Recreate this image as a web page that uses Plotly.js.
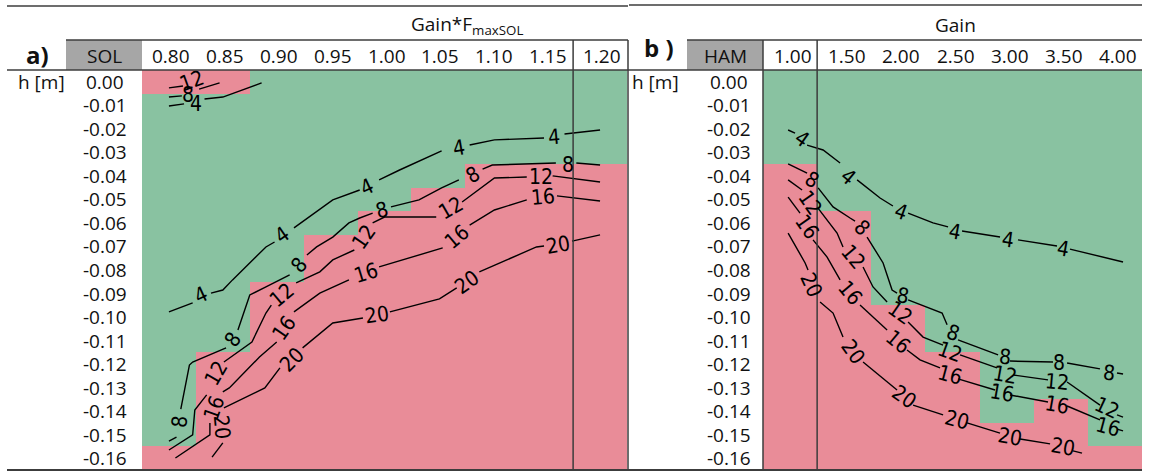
<!DOCTYPE html>
<html>
<head>
<meta charset="utf-8">
<script src="https://cdn.plot.ly/plotly-3.0.1.min.js"></script>
<style>html,body{margin:0;padding:0;background:#fff;}#chart{width:1154px;height:472px;}</style>
</head>
<body>
<div id="chart"></div>
<script>
// ---------- data ----------
const solGain = [0.80, 0.85, 0.90, 0.95, 1.00, 1.05, 1.10, 1.15, 1.20];
const hamGain = [1.00, 1.50, 2.00, 2.50, 3.00, 3.50, 4.00];
const hDepth = [0.00, -0.01, -0.02, -0.03, -0.04, -0.05, -0.06, -0.07, -0.08, -0.09, -0.10, -0.11, -0.12, -0.13, -0.14, -0.15, -0.16];
// red (unstable) cells: from this depth downward, and (SOL) at/above this depth
const solRedBelow = [-0.16, -0.12, -0.09, -0.07, -0.06, -0.05, -0.04, -0.04, -0.04];
const solRedAbove = [0.00, 0.00, null, null, null, null, null, null, null];
const hamRedBelow = [-0.04, -0.06, -0.10, -0.12, -0.15, -0.14, -0.16];

const contourLevels = [4, 8, 12, 16, 20];

// SOL contours (gain*FmaxSOL, h)
const solC4X = [0.800,0.814,null,0.833,0.850,0.886,null,0.800,0.822,null,0.839,0.850,0.859,0.890,0.898,null,0.916,0.952,0.977,null,0.995,1.014,1.053,null,1.079,1.102,1.148,null,1.167,1.200];
const solC4Y = [-0.0103,-0.0094,null,-0.0073,-0.0065,-0.0005,null,-0.0978,-0.0940,null,-0.0898,-0.0885,-0.0842,-0.0702,-0.0681,null,-0.0621,-0.0502,-0.0460,null,-0.0417,-0.0375,-0.0294,null,-0.0269,-0.0247,-0.0239,null,-0.0222,-0.0205];
const solC4Lab = [[0.825,-0.0094,0],[0.830,-0.0906,-25],[0.905,-0.0651,-35],[0.984,-0.0447,-25],[1.069,-0.0281,-10],[1.157,-0.0235,-5]];

const solC8X = [0.800,0.812,null,0.800,0.807,null,0.811,0.819,0.822,0.853,null,0.864,0.875,0.890,0.912,null,0.928,0.937,0.952,0.967,0.977,0.989,null,1.006,1.032,1.053,1.069,null,1.091,1.100,1.159,null,1.178,1.200];
const solC8Y = [-0.0065,-0.0060,null,-0.1527,-0.1510,null,-0.1391,-0.1204,-0.1191,-0.1131,null,-0.1055,-0.0906,-0.0872,-0.0821,null,-0.0736,-0.0702,-0.0660,-0.0600,-0.0579,-0.0558,null,-0.0532,-0.0502,-0.0451,-0.0417,null,-0.0371,-0.0354,-0.0345,null,-0.0345,-0.0354];
const solC8Lab = [[0.818,-0.0056,0],[0.810,-0.1446,-85],[0.859,-0.1097,-55],[0.921,-0.0778,-50],[0.998,-0.0545,-15],[1.082,-0.0396,-30],[1.170,-0.0354,0]];

const solC12X = [0.800,0.813,null,0.828,0.847,null,0.800,0.822,0.824,0.835,null,0.851,0.877,0.890,0.895,null,0.918,0.940,0.952,0.972,null,0.989,1.000,1.048,null,1.072,1.102,1.132,null,1.156,1.200];
const solC12Y = [-0.0026,-0.0018,null,-0.0031,-0.0005,null,-0.1565,-0.1501,-0.1395,-0.1331,null,-0.1191,-0.1106,-0.0983,-0.0949,null,-0.0855,-0.0808,-0.0757,-0.0715,null,-0.0600,-0.0575,-0.0575,null,-0.0511,-0.0409,-0.0405,null,-0.0400,-0.0426];
const solC12Lab = [[0.821,0.0003,-20],[0.844,-0.1238,-60],[0.905,-0.0906,-40],[0.981,-0.0660,-55],[1.062,-0.0537,-30],[1.145,-0.0405,0]];

const solC16X = [0.806,0.838,0.838,null,0.850,0.856,0.884,0.900,null,0.916,0.940,0.967,null,0.995,1.054,null,1.079,1.102,1.132,null,1.160,1.200];
const solC16Y = [-0.1599,-0.1501,-0.1450,null,-0.1318,-0.1301,-0.1170,-0.1106,null,-0.0978,-0.0898,-0.0842,null,-0.0787,-0.0706,null,-0.0609,-0.0545,-0.0502,null,-0.0485,-0.0507];
const solC16Lab = [[0.842,-0.1386,-70],[0.907,-0.1046,-55],[0.983,-0.0812,-17],[1.067,-0.0660,-40],[1.147,-0.0490,-5]];

const solC20X = [0.840,0.850,null,0.851,0.889,0.903,null,0.924,0.952,0.980,null,1.005,1.051,1.067,null,1.088,1.141,1.148,null,1.174,1.200];
const solC20Y = [-0.1595,-0.1535,null,-0.1386,-0.1301,-0.1216,null,-0.1131,-0.1025,-0.1004,null,-0.0978,-0.0923,-0.0876,null,-0.0808,-0.0702,-0.0698,null,-0.0677,-0.0651];
const solC20Lab = [[0.849,-0.1467,85],[0.914,-0.1182,-45],[0.993,-0.0991,-8],[1.077,-0.0851,-35],[1.161,-0.0694,-10]];

// HAM contours (gain, h)
const hamC4X = [0.982,1.046,null,1.157,1.305,1.462,null,1.619,1.831,1.950,null,2.090,2.320,2.459,null,2.588,2.939,null,3.105,3.465,null,3.585,4.075];
const hamC4Y = [-0.0205,-0.0218,null,-0.0269,-0.0290,-0.0345,null,-0.0417,-0.0494,-0.0528,null,-0.0558,-0.0600,-0.0617,null,-0.0634,-0.0660,null,-0.0672,-0.0698,null,-0.0711,-0.0766];
const hamC4Lab = [[1.111,-0.0243,35],[1.536,-0.0405,40],[2.025,-0.0553,20],[2.524,-0.0638,10],[3.013,-0.0672,8],[3.521,-0.0711,10]];

const hamC8X = [0.982,1.157,null,1.259,1.397,1.554,1.600,null,1.711,1.859,1.942,1.988,null,2.090,2.404,2.450,null,2.551,2.921,null,3.031,3.428,null,3.558,3.862,null,4.019,4.075];
const hamC8Y = [-0.0349,-0.0388,null,-0.0451,-0.0532,-0.0579,-0.0592,null,-0.0660,-0.0770,-0.0885,-0.0898,null,-0.0927,-0.0983,-0.1033,null,-0.1097,-0.1161,null,-0.1187,-0.1191,null,-0.1195,-0.1220,null,-0.1238,-0.1242];
const hamC8Lab = [[1.203,-0.0417,30],[1.665,-0.0621,45],[2.043,-0.0910,10],[2.505,-0.1068,20],[2.985,-0.1170,5],[3.484,-0.1195,0],[3.946,-0.1238,5]];

const hamC12X = [0.982,1.111,null,1.249,1.434,1.489,null,1.674,1.766,1.896,null,2.090,2.228,2.413,null,2.570,2.911,null,3.059,3.382,null,3.558,3.862,null,4.019,4.075];
const hamC12Y = [-0.0417,-0.0460,null,-0.0532,-0.0643,-0.0702,null,-0.0787,-0.0872,-0.0936,null,-0.1021,-0.1085,-0.1119,null,-0.1161,-0.1216,null,-0.1246,-0.1267,null,-0.1276,-0.1374,null,-0.1416,-0.1425];
const hamC12Lab = [[1.185,-0.0515,55],[1.582,-0.0745,50],[2.016,-0.0983,35],[2.477,-0.1148,20],[2.985,-0.1246,10],[3.465,-0.1276,5],[3.927,-0.1386,25]];

const hamC16X = [0.982,1.092,null,1.212,1.342,1.462,null,1.646,1.896,null,2.080,2.200,2.385,null,2.551,2.893,null,3.031,3.382,null,3.558,3.862,null,4.019,4.075];
const hamC16Y = [-0.0490,-0.0558,null,-0.0672,-0.0745,-0.0842,null,-0.0949,-0.1055,null,-0.1140,-0.1182,-0.1216,null,-0.1263,-0.1310,null,-0.1331,-0.1361,null,-0.1378,-0.1437,null,-0.1476,-0.1484];
const hamC16Lab = [[1.157,-0.0617,55],[1.554,-0.0898,50],[1.997,-0.1106,40],[2.477,-0.1246,15],[2.958,-0.1323,10],[3.465,-0.1374,10],[3.936,-0.1467,15]];

const hamC20X = [0.982,1.139,1.166,null,1.277,1.397,1.489,null,1.674,1.988,null,2.136,2.413,null,2.634,2.939,null,3.124,3.401,null,3.613,3.696];
const hamC20Y = [-0.0643,-0.0770,-0.0800,null,-0.0936,-0.0983,-0.1085,null,-0.1191,-0.1310,null,-0.1374,-0.1416,null,-0.1450,-0.1493,null,-0.1518,-0.1539,null,-0.1569,-0.1578];
const hamC20Lab = [[1.194,-0.0864,65],[1.582,-0.1148,55],[2.053,-0.1340,35],[2.542,-0.1437,15],[3.031,-0.1510,10],[3.521,-0.1552,10]];

// ---------- styling ----------
const W = 1154, H = 472;
const GREEN = '#89C2A1', RED = '#E98C98', GREY = '#A6A6A6', RULE = '#3c3c3c';
const TXT = {family: 'Open Sans, Noto Sans, sans-serif', size: 19, color: '#111'};
const LBL = {family: 'Liberation Sans Narrow, Arial Narrow, DejaVu Sans Condensed, sans-serif', size: 21, color: '#000'};
const px = v => v / W, py = v => 1 - v / H;
const eps = 1e-9;

function zGrid(redBelow, redAbove) {
  return hDepth.map(h => redBelow.map((rb, j) => {
    const above = redAbove ? redAbove[j] : null;
    return (h <= rb + eps || (above !== null && h >= above - eps)) ? 1 : 0;
  }));
}

const traces = [
  {type: 'heatmap', x: solGain, y: hDepth, z: zGrid(solRedBelow, solRedAbove), xaxis: 'x', yaxis: 'y',
   colorscale: [[0, GREEN], [1, RED]], zmin: 0, zmax: 1, showscale: false, hoverinfo: 'skip'},
  {type: 'heatmap', x: hamGain, y: hDepth, z: zGrid(hamRedBelow, null), xaxis: 'x2', yaxis: 'y2',
   colorscale: [[0, GREEN], [1, RED]], zmin: 0, zmax: 1, showscale: false, hoverinfo: 'skip'}
];

const solSets = [[solC4X, solC4Y, solC4Lab], [solC8X, solC8Y, solC8Lab], [solC12X, solC12Y, solC12Lab], [solC16X, solC16Y, solC16Lab], [solC20X, solC20Y, solC20Lab]];
const hamSets = [[hamC4X, hamC4Y, hamC4Lab], [hamC8X, hamC8Y, hamC8Lab], [hamC12X, hamC12Y, hamC12Lab], [hamC16X, hamC16Y, hamC16Lab], [hamC20X, hamC20Y, hamC20Lab]];

const annotations = [];
function addContours(sets, xa, ya) {
  sets.forEach((s, i) => {
    traces.push({type: 'scatter', mode: 'lines', x: s[0], y: s[1], xaxis: xa, yaxis: ya,
      connectgaps: false, line: {color: '#000', width: 1.4}, hoverinfo: 'skip', showlegend: false});
    s[2].forEach(l => annotations.push({xref: xa, yref: ya, x: l[0], y: l[1], text: String(contourLevels[i]),
      textangle: l[2], showarrow: false, font: LBL, xanchor: 'center', yanchor: 'middle'}));
  });
}
addContours(solSets, 'x', 'y');
addContours(hamSets, 'x2', 'y2');

// row labels
hDepth.forEach(h => {
  annotations.push({xref: 'paper', yref: 'y', x: px(105), y: h, text: h.toFixed(2), showarrow: false, font: TXT, xanchor: 'center', yanchor: 'middle'});
  annotations.push({xref: 'paper', yref: 'y2', x: px(729), y: h, text: h.toFixed(2), showarrow: false, font: TXT, xanchor: 'center', yanchor: 'middle'});
});
// column labels
solGain.forEach(g => annotations.push({xref: 'x', yref: 'paper', x: g, y: py(56), xshift: 2, text: g.toFixed(2), showarrow: false, font: TXT, xanchor: 'center', yanchor: 'middle'}));
hamGain.forEach(g => annotations.push({xref: 'x2', yref: 'paper', x: g, y: py(56), xshift: 3, text: g.toFixed(2), showarrow: false, font: TXT, xanchor: 'center', yanchor: 'middle'}));

// headers
const hdr = (x, y, text, font) => annotations.push({xref: 'paper', yref: 'paper', x: px(x), y: py(y), text, showarrow: false, font: font || TXT, xanchor: 'center', yanchor: 'middle'});
hdr(467, 25, 'Gain*F<sub>maxSOL</sub>');
hdr(955, 25, 'Gain');
hdr(104, 56, 'SOL');
hdr(725, 56, 'HAM');
hdr(37, 54, '<b>a)</b>', {family: 'Open Sans, sans-serif', size: 24, color: '#111'});
hdr(659, 48, '<b>b )</b>', {family: 'Open Sans, sans-serif', size: 24, color: '#111'});
annotations.push({xref: 'paper', yref: 'y', x: px(41), y: 0, text: 'h [m]', showarrow: false, font: TXT, xanchor: 'center', yanchor: 'middle'});
annotations.push({xref: 'paper', yref: 'y2', x: px(655), y: 0, text: 'h [m]', showarrow: false, font: TXT, xanchor: 'center', yanchor: 'middle'});

// rules and boxes
const hl = (x0, x1, y, w) => ({type: 'line', xref: 'paper', yref: 'paper', x0: px(x0), x1: px(x1), y0: py(y), y1: py(y), line: {color: RULE, width: w || 1.5}});
const shapes = [
  {type: 'rect', xref: 'paper', yref: 'paper', x0: px(66), x1: px(142), y0: py(70), y1: py(40), fillcolor: GREY, line: {width: 0}, layer: 'below'},
  {type: 'rect', xref: 'paper', yref: 'paper', x0: px(687), x1: px(763), y0: py(70), y1: py(40), fillcolor: GREY, line: {width: 0}, layer: 'below'},
  hl(7, 628, 6), hl(629, 1142, 5),
  hl(66, 628, 40), hl(687, 1142, 40),
  hl(7, 1142, 70), hl(7, 1142, 470, 2),
  {type: 'line', xref: 'x', yref: 'paper', x0: 1.175, x1: 1.175, y0: py(470), y1: py(40), line: {color: RULE, width: 1.5}},
  {type: 'line', xref: 'paper', yref: 'paper', x0: px(628), x1: px(628), y0: py(470), y1: py(40), line: {color: RULE, width: 1.5}},
  {type: 'line', xref: 'paper', yref: 'paper', x0: px(763), x1: px(763), y0: py(470), y1: py(40), line: {color: RULE, width: 1.5}},
  {type: 'line', xref: 'x2', yref: 'paper', x0: 1.25, x1: 1.25, y0: py(470), y1: py(40), line: {color: RULE, width: 1.5}}
];

const axBase = {showgrid: false, zeroline: false, showticklabels: false, showline: false, ticks: '', fixedrange: true};
const layout = {
  width: W, height: H, margin: {l: 0, r: 0, t: 0, b: 0},
  paper_bgcolor: '#fff', plot_bgcolor: '#fff', showlegend: false,
  xaxis: Object.assign({}, axBase, {domain: [px(142), px(627)], range: [0.775, 1.225], anchor: 'y'}),
  yaxis: Object.assign({}, axBase, {domain: [py(470), py(70)], range: [-0.165, 0.005], anchor: 'x'}),
  xaxis2: Object.assign({}, axBase, {domain: [px(763), px(1142)], range: [0.75, 4.25], anchor: 'y2'}),
  yaxis2: Object.assign({}, axBase, {domain: [py(470), py(70)], range: [-0.165, 0.005], anchor: 'x2'}),
  annotations, shapes
};
Plotly.newPlot('chart', traces, layout, {staticPlot: true, displayModeBar: false});
</script>
</body>
</html>
